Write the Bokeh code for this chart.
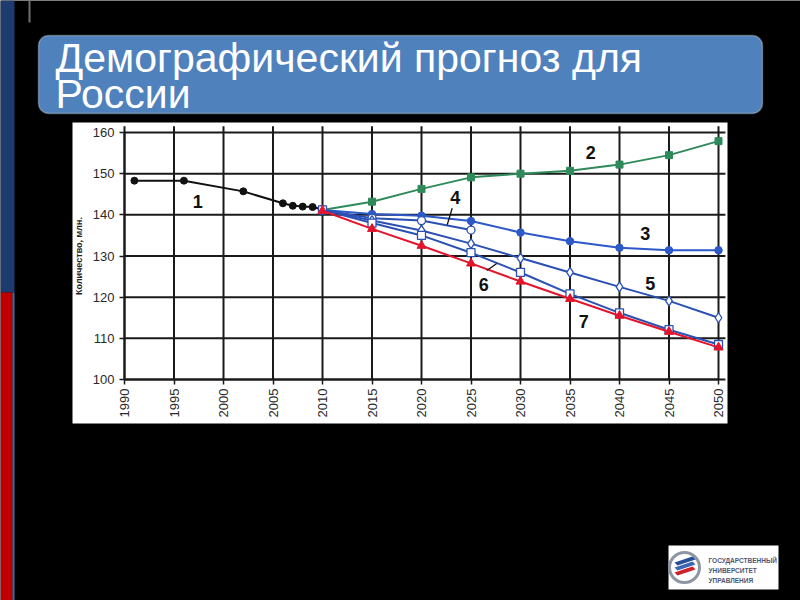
import math
from bokeh.plotting import figure
from bokeh.models import Range1d, BoxAnnotation, Label, LinearAxis, FixedTicker
from bokeh.core.properties import value
from bokeh.embed import file_html
from bokeh.resources import INLINE

# ---------------- data ----------------
TITLE_LINES = ["Демографический прогноз для", "России"]
Y_LABEL = "Количество, млн."
X_TICKS = [1990, 1995, 2000, 2005, 2010, 2015, 2020, 2025, 2030, 2035, 2040, 2045, 2050]
Y_TICKS = [100, 110, 120, 130, 140, 150, 160]

hist_years = [1991, 1996, 2002, 2006, 2007, 2008, 2009, 2010]
hist_pop = [148.3, 148.3, 145.7, 142.8, 142.2, 142.0, 141.9, 141.3]

fc_years = [2010, 2015, 2020, 2025, 2030, 2035, 2040, 2045, 2050]
s2_pop = [141.2, 143.2, 146.3, 149.1, 150.0, 150.7, 152.2, 154.5, 157.9]
s3_pop = [141.2, 140.2, 139.8, 138.5, 135.7, 133.6, 132.0, 131.4, 131.4]
s4_years = [2010, 2015, 2020, 2025]
s4_pop = [141.2, 139.2, 138.6, 136.3]
s5_pop = [141.2, 138.6, 136.2, 133.0, 129.5, 126.0, 122.5, 119.1, 115.0]
s6_pop = [141.2, 138.0, 135.0, 130.8, 126.0, 120.8, 116.2, 112.1, 108.5]
s7_pop = [141.0, 136.6, 132.5, 128.2, 123.8, 119.6, 115.5, 111.6, 107.8]

series_names = ["1", "2", "3", "4", "5", "6", "7"]
name_x = [1997.4, 2037.1, 2042.6, 2023.4, 2043.1, 2026.3, 2036.4]
name_y = [143.2, 155.1, 135.5, 144.2, 123.3, 123.1, 114.1]

leader_x0 = [2023.1, 2026.6]
leader_y0 = [141.6, 126.5]
leader_x1 = [2022.6, 2027.6]
leader_y1 = [137.6, 128.2]

LOGO_LINES = ["ГОСУДАРСТВЕННЫЙ", "УНИВЕРСИТЕТ", "УПРАВЛЕНИЯ"]

# ---------------- geometry (page px) ----------------
W, H = 800, 600
X0_PX, X1_PX = 124, 718   # where 1990 and 2050 sit
Y0_PX, Y1_PX = 379, 132   # where 100 and 160 sit
PXY = (X1_PX - X0_PX) / (X_TICKS[-1] - X_TICKS[0])
PXV = (Y0_PX - Y1_PX) / (Y_TICKS[-1] - Y_TICKS[0])
GRID_X_END = X_TICKS[-1] + 0.7
GRID_Y_END = Y_TICKS[-1] + 1.5

p = figure(width=W, height=H, output_backend="svg", toolbar_location=None,
           x_range=Range1d(0, W), y_range=Range1d(H, 0),
           x_axis_location=None, y_axis_location=None, min_border=0,
           outline_line_color=None, background_fill_color="black",
           border_fill_color="black")
p.grid.visible = False

p.extra_x_ranges = {"yr": Range1d(X_TICKS[0] - X0_PX / PXY, X_TICKS[0] + (W - X0_PX) / PXY)}
p.extra_y_ranges = {"pop": Range1d(Y_TICKS[0] - (H - Y0_PX) / PXV, Y_TICKS[0] + Y0_PX / PXV)}
D = dict(x_range_name="yr", y_range_name="pop")

# ---------------- slide decoration (page px) ----------------
p.quad(left=[0], right=[14], top=[0], bottom=[292], fill_color="#1d3b6f", line_color=None)
p.quad(left=[0], right=[12], top=[292], bottom=[H], fill_color="#c00000", line_color=None)
p.quad(left=[12], right=[14], top=[292], bottom=[H], fill_color="#3f6e9e", line_color=None)
p.quad(left=[28], right=[30], top=[0], bottom=[22], fill_color="#707070", line_color=None)
# white chart panel
p.quad(left=[72], right=[727], top=[122], bottom=[423], fill_color="white", line_color=None)

# title banner
p.add_layout(BoxAnnotation(left=38, right=762, top=35, bottom=113, fill_color="#4f81bd",
                           fill_alpha=1.0, line_color="white", line_width=1.5,
                           border_radius=10))
for i, t in enumerate(TITLE_LINES):
    p.add_layout(Label(x=55, y=57 + i * 36, text=t, text_color="white",
                       text_font="Liberation Sans", text_font_size="41px",
                       text_baseline="alphabetic", text_align="left"))

# logo
p.quad(left=[668], right=[778], top=[545], bottom=[589], fill_color="white", line_color=None)
p.scatter([684], [567], marker="circle", size=30, fill_color=None,
          line_color="#8f96a3", line_width=3)
for k, col in enumerate(["#2a4f9a", "#3b66b5", "#d0202a"]):
    dy = 5 * k
    p.patch([674, 692, 695, 677], [562 + dy, 556 + dy, 559 + dy, 565 + dy],
            fill_color=col, line_color=None)
for i, t in enumerate(LOGO_LINES):
    p.add_layout(Label(x=708, y=560 + i * 10, text=t, text_color="#4f5872",
                       text_font="Liberation Sans", text_font_size="6.5px",
                       text_font_style="bold", text_baseline="alphabetic", text_align="left"))

# ---------------- chart ----------------
# grid lines from the tick lists
p.multi_line(xs=[[t, t] for t in X_TICKS], ys=[[Y_TICKS[0], GRID_Y_END]] * len(X_TICKS),
             line_color="#1a1a1a", line_width=2, **D)
p.multi_line(xs=[[X_TICKS[0], GRID_X_END]] * len(Y_TICKS), ys=[[t, t] for t in Y_TICKS],
             line_color="#1a1a1a", line_width=2, **D)

xaxis = LinearAxis(fixed_location=Y_TICKS[0], bounds=(X_TICKS[0], X_TICKS[-1]),
                   ticker=FixedTicker(ticks=X_TICKS), **D)
yaxis = LinearAxis(fixed_location=X_TICKS[0], bounds=(Y_TICKS[0], Y_TICKS[-1]),
                   ticker=FixedTicker(ticks=Y_TICKS), axis_label=Y_LABEL, **D)
for ax in (xaxis, yaxis):
    ax.axis_line_color = "#1a1a1a"
    ax.axis_line_width = 2
    ax.major_tick_line_color = "#1a1a1a"
    ax.major_tick_line_width = 1.5
    ax.major_tick_out = 5
    ax.major_tick_in = 0
    ax.minor_tick_line_color = None
    ax.major_label_text_font = "Liberation Sans"
    ax.major_label_text_font_size = "13px"
    ax.major_label_text_color = "#2a2a2a"
    ax.major_label_standoff = 5
xaxis.major_label_orientation = math.pi / 2
xaxis.major_label_standoff = 4
yaxis.axis_label_text_font = "Liberation Sans"
yaxis.axis_label_text_font_size = "9px"
yaxis.axis_label_text_font_style = "bold"
yaxis.axis_label_text_color = "#222222"
yaxis.axis_label_standoff = 6
p.add_layout(xaxis, "below")
p.add_layout(yaxis, "left")

BLUE = "#2d58c8"
BLUE2 = "#2a50b4"
GREEN = "#2f8a5a"
RED = "#e4142c"

p.line(hist_years, hist_pop, line_color="#111111", line_width=2, **D)
p.scatter(hist_years[:-1], hist_pop[:-1], marker="circle", size=7, fill_color="#111111",
          line_color="#111111", **D)

p.line(fc_years, s2_pop, line_color=GREEN, line_width=2, **D)
p.scatter(fc_years, s2_pop, marker="square", size=7, fill_color=GREEN, line_color=GREEN, **D)

p.line(fc_years, s3_pop, line_color=BLUE, line_width=2, **D)
p.scatter(fc_years, s3_pop, marker="circle", size=7.5, fill_color=BLUE, line_color=BLUE, **D)

p.line(s4_years, s4_pop, line_color=BLUE2, line_width=2, **D)
p.scatter(s4_years, s4_pop, marker="circle", size=8, fill_color="white", line_color=BLUE2,
          line_width=1.3, **D)

p.line(fc_years, s5_pop, line_color=BLUE2, line_width=2, **D)
p.scatter(fc_years, s5_pop, marker="diamond", size=10, fill_color="white", line_color=BLUE2,
          line_width=1.3, **D)

p.line(fc_years, s6_pop, line_color=BLUE2, line_width=2, **D)
p.scatter(fc_years, s6_pop, marker="square", size=8, fill_color="white", line_color=BLUE2,
          line_width=1.3, **D)

p.line(fc_years, s7_pop, line_color=RED, line_width=2, **D)
p.scatter(fc_years, s7_pop, marker="triangle", size=9, fill_color=RED, line_color=RED, **D)

p.segment(leader_x0, leader_y0, leader_x1, leader_y1, line_color="#111111", line_width=1.3, **D)
p.text(name_x, name_y, text=series_names, text_font=value("Liberation Sans"),
       text_font_size="18px", text_font_style="bold", text_color="#111111",
       text_align="center", text_baseline="middle", **D)

open("out.html", "w").write(file_html(p, INLINE))
